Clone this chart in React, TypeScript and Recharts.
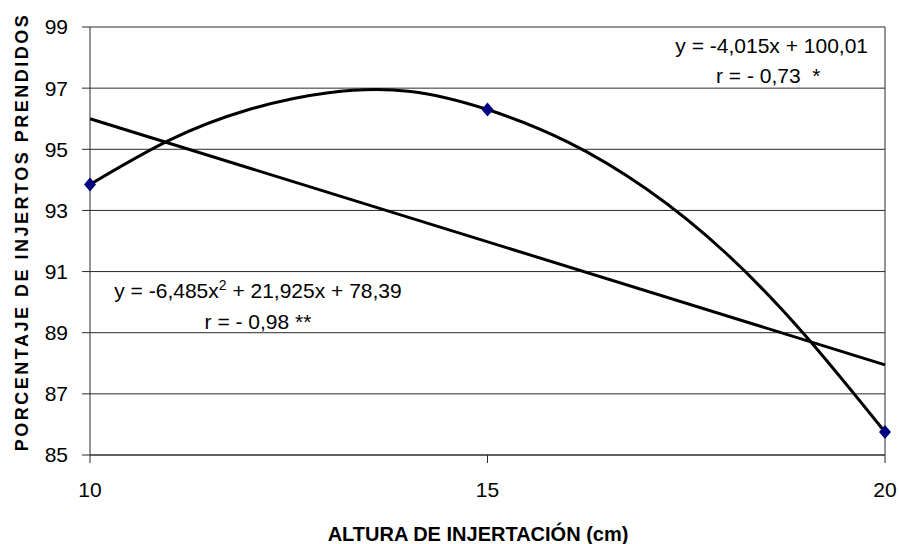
import React from 'react'
import { ComposedChart, Line, Scatter, XAxis, YAxis, CartesianGrid, ReferenceLine } from 'recharts'

// observed means
const observedX = [10, 15, 20]
const observedY = [93.85, 96.3, 85.75]

// polynomial trend
const curveX = [10, 11, 12, 13, 14, 15, 16, 17, 18, 19, 20]
const curveY = [93.85, 95.3, 96.3, 96.85, 96.9, 96.3, 95.25, 93.7, 91.6, 88.9, 85.75]

// linear trend end points
const linearX = [10, 20]
const linearY = [96.0, 87.95]

const xTicks = [10, 15, 20]
const yTicks = [85, 87, 89, 91, 93, 95, 97, 99]

const FONT = '"Liberation Sans", Arial, sans-serif'
const GRID = '#2a2a2a'

const observed = observedX.map((x, i) => ({ x, y: observedY[i] }))
const curve = curveX.map((x, i) => ({ x, y: curveY[i] }))
const linear = linearX.map((x, i) => ({ x, y: linearY[i] }))

const Diamond = (props: any) => {
  const { cx, cy } = props
  if (cx == null || cy == null) return null
  return <polygon points={`${cx},${cy - 7} ${cx + 6},${cy} ${cx},${cy + 7} ${cx - 6},${cy}`} fill="#000080" />
}

export default function App() {
  return (
    <div style={{ position: 'absolute', left: 0, top: 0, width: 899, height: 544, background: '#fff' }}>
      <ComposedChart width={899} height={544} margin={{ top: 27, right: 14, left: 0, bottom: 0 }}>
        <CartesianGrid horizontal vertical={false} stroke={GRID} />
        <XAxis
          dataKey="x"
          type="number"
          domain={[10, 20]}
          ticks={xTicks}
          height={89}
          tickSize={8}
          tickMargin={19}
          axisLine={{ stroke: GRID }}
          tickLine={{ stroke: GRID }}
          tick={{ fill: '#000', fontSize: 21, fontFamily: FONT }}
        />
        <YAxis
          dataKey="y"
          type="number"
          domain={[85, 99]}
          ticks={yTicks}
          width={90}
          tickSize={8}
          tickMargin={14}
          axisLine={{ stroke: GRID }}
          tickLine={{ stroke: GRID }}
          tick={{ fill: '#000', fontSize: 21, fontFamily: FONT }}
        />
        <ReferenceLine x={20} stroke={GRID} />
        <Line data={linear} dataKey="y" type="linear" stroke="#000" strokeWidth={3} dot={false} isAnimationActive={false} />
        <Line data={curve} dataKey="y" type="natural" stroke="#000" strokeWidth={3} dot={false} isAnimationActive={false} />
        <Scatter data={observed} dataKey="y" shape={<Diamond />} isAnimationActive={false} />
      </ComposedChart>
      <svg width={899} height={544} style={{ position: 'absolute', left: 0, top: 0, pointerEvents: 'none' }}>
        <g fontFamily={FONT} fill="#000">
          <text x={868} y={53} fontSize={21} textAnchor="end">y = -4,015x + 100,01</text>
          <text x={716} y={83} fontSize={21} xmlSpace="preserve">r = - 0,73  *</text>
          <text x={258} y={298} fontSize={21} textAnchor="middle">
            y = -6,485x<tspan fontSize={14} dy={-8}>2</tspan><tspan dy={8}> + 21,925x + 78,39</tspan>
          </text>
          <text x={258} y={329} fontSize={21} textAnchor="middle">r = - 0,98 **</text>
          <text x={478} y={541} fontSize={20} fontWeight="bold" textAnchor="middle">ALTURA DE INJERTACIÓN (cm)</text>
          <text
            x={0}
            y={0}
            fontSize={18}
            fontWeight="bold"
            letterSpacing={2.5}
            textAnchor="middle"
            transform="translate(28,232) rotate(-90)"
          >
            PORCENTAJE DE INJERTOS PRENDIDOS
          </text>
        </g>
      </svg>
    </div>
  )
}
